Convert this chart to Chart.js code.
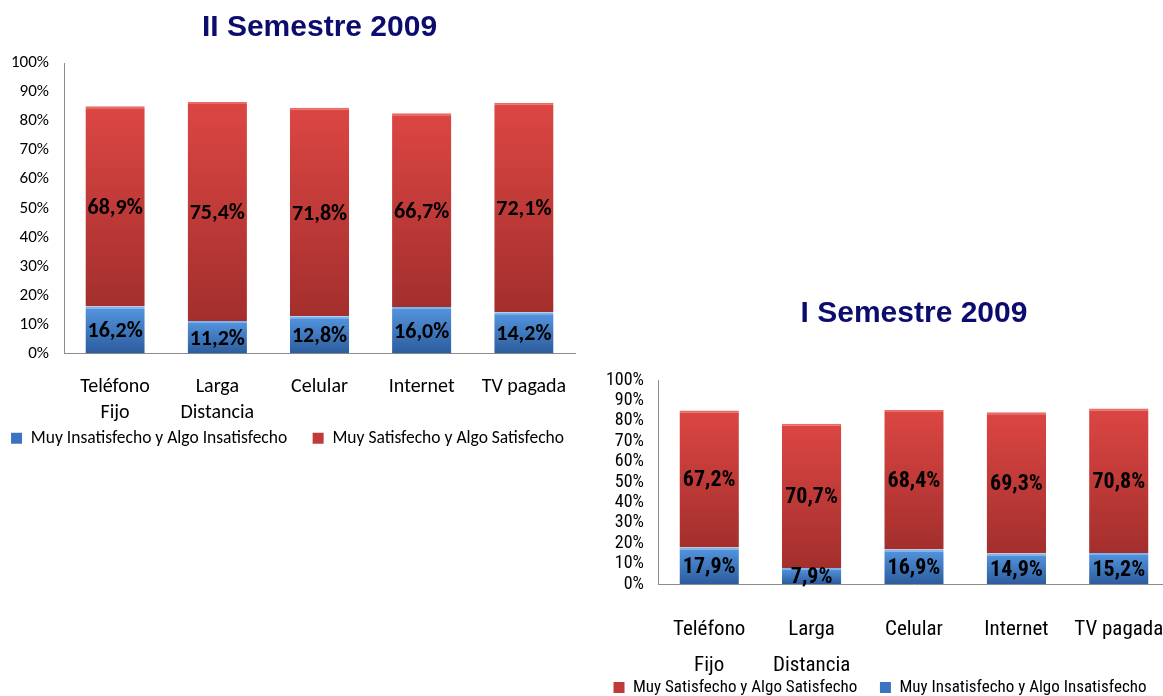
<!DOCTYPE html>
<html>
<head>
<meta charset="utf-8">
<script src="https://cdn.jsdelivr.net/npm/chart.js@4.4.1/dist/chart.umd.min.js"></script>
<style>
  html, body { margin: 0; padding: 0; background: #fff; overflow: hidden; }
  .box { position: absolute; }
  #left { left: 0; top: 0; }
  #right { left: 590px; top: 290px; }
</style>
</head>
<body>
<div class="box" id="left"><canvas id="canvas-1" width="610" height="457"></canvas></div>
<div class="box" id="right"><canvas id="canvas-2" width="620" height="416"></canvas></div>
<script>
const categories = [['Teléfono', 'Fijo'], ['Larga', 'Distancia'], 'Celular', 'Internet', 'TV pagada'];
// II Semestre 2009
const insatisfechoII = [16.2, 11.2, 12.8, 16.0, 14.2];
const satisfechoII = [68.9, 75.4, 71.8, 66.7, 72.1];
// I Semestre 2009
const insatisfechoI = [17.9, 7.9, 16.9, 14.9, 15.2];
const satisfechoI = [67.2, 70.7, 68.4, 69.3, 70.8];
const yMax = 100;
const yStep = 10;

const labelInsatisfecho = 'Muy Insatisfecho y Algo Insatisfecho';
const labelSatisfecho = 'Muy Satisfecho y Algo Satisfecho';

const blueSolid = '#3a74c0';
const redSolid = '#bf3a38';

// vertical gradient per bar segment, lighter at the top
function barFill(light, dark, mid) {
  return function (ctx) {
    const chart = ctx.chart;
    const y = chart.scales.y;
    if (ctx.type !== 'data' || !y || !chart.chartArea) return mid;
    let base = 0;
    for (let i = 0; i < ctx.datasetIndex; i++) base += chart.data.datasets[i].data[ctx.dataIndex];
    const top = y.getPixelForValue(base + ctx.raw);
    const bottom = y.getPixelForValue(base);
    if (!isFinite(top) || !isFinite(bottom) || top === bottom) return mid;
    const g = chart.ctx.createLinearGradient(0, top, 0, bottom);
    g.addColorStop(0, light);
    g.addColorStop(1, dark);
    return g;
  };
}

const blueFill = barFill('#5496e0', '#2c5c9d', blueSolid);
const redFill = barFill('#dc4643', '#a32f2d', redSolid);

const valueLabels = {
  id: 'valueLabels',
  afterDatasetsDraw(chart, args, opts) {
    const ctx = chart.ctx;
    ctx.save();
    ctx.font = opts.font;
    ctx.fillStyle = '#000';
    ctx.textAlign = 'center';
    ctx.textBaseline = 'middle';
    chart.data.datasets.forEach((ds, i) => {
      chart.getDatasetMeta(i).data.forEach((bar, j) => {
        const txt = ds.data[j].toFixed(1).replace('.', ',') + '%';
        ctx.fillText(txt, bar.x, (bar.y + bar.base) / 2 + 2);
      });
    });
    ctx.restore();
  }
};

function makeChart(id, s) {
  return new Chart(document.getElementById(id), {
    type: 'bar',
    data: {
      labels: categories,
      datasets: [{
        label: labelInsatisfecho,
        data: s.blue,
        backgroundColor: blueFill,
        borderColor: '#7db4f0',
        borderWidth: { top: 2, right: 0, bottom: 0, left: 0 },
        borderSkipped: 'start'
      }, {
        label: labelSatisfecho,
        data: s.red,
        backgroundColor: redFill,
        borderColor: '#ea6a66',
        borderWidth: { top: 2, right: 0, bottom: 0, left: 0 },
        borderSkipped: 'start'
      }]
    },
    options: {
      responsive: false,
      animation: false,
      barPercentage: 0.58,
      categoryPercentage: 1,
      layout: { padding: s.padding },
      plugins: {
        title: {
          display: true,
          fullSize: false,
          text: s.title,
          color: '#0c0c6e',
          font: { family: "'Liberation Sans', Arial, sans-serif", size: 30, weight: 'bold' },
          padding: s.titlePadding
        },
        legend: {
          position: 'bottom',
          reverse: s.reverseLegend,
          labels: {
            boxWidth: 11,
            boxHeight: 11,
            color: '#000',
            padding: s.legendPadding,
            font: { family: s.font, size: s.legendSize },
            generateLabels(chart) {
              const items = Chart.defaults.plugins.legend.labels.generateLabels(chart);
              items.forEach(it => {
                it.fillStyle = it.datasetIndex === 0 ? blueSolid : redSolid;
                it.strokeStyle = it.fillStyle;
                it.lineWidth = 0;
              });
              // extra room after the first entry, like the original spacing
              const first = s.reverseLegend ? items.length - 1 : 0;
              items[first].text += s.legendGap;
              return items;
            }
          }
        },
        tooltip: { enabled: false },
        valueLabels: { font: 'bold ' + s.valueSize + 'px ' + s.font }
      },
      scales: {
        x: {
          stacked: true,
          grid: { display: false, drawTicks: false },
          border: { color: '#8c8c8c' },
          ticks: {
            color: '#000',
            autoSkip: false,
            maxRotation: 0,
            padding: s.xPad,
            font: { family: s.font, size: s.xSize, lineHeight: s.xLine }
          },
          afterFit(scale) { scale.height = s.xHeight; }
        },
        y: {
          stacked: true,
          min: 0,
          max: yMax,
          grid: { display: false, drawTicks: false },
          border: { color: '#8c8c8c' },
          ticks: {
            color: '#000',
            autoSkip: false,
            stepSize: yStep,
            padding: s.yPad,
            font: { family: s.font, size: s.ySize },
            callback: v => v + '%'
          },
          afterFit(scale) { scale.width = s.yWidth; }
        }
      }
    },
    plugins: [valueLabels]
  });
}

const chartII = makeChart('canvas-1', {
  title: 'II Semestre 2009',
  blue: insatisfechoII,
  red: satisfechoII,
  font: "Carlito, Lato, sans-serif",
  padding: { left: 0, right: 35, top: 0, bottom: 0 },
  titlePadding: { top: 10, bottom: 17 },
  reverseLegend: false,
  legendPadding: 4,
  legendGap: '\u2003 ',
  legendSize: 17.5,
  valueSize: 22,
  xPad: 20, xSize: 20, xLine: 1.3, xHeight: 72,
  yPad: 15, ySize: 17, yWidth: 64
});

const chartI = makeChart('canvas-2', {
  title: 'I Semestre 2009',
  blue: insatisfechoI,
  red: satisfechoI,
  font: "'Roboto Condensed', Carlito, sans-serif",
  padding: { left: 0, right: 40, top: 0, bottom: 0 },
  titlePadding: { top: 6, bottom: 48 },
  reverseLegend: true,
  legendPadding: 0,
  legendGap: '\u2003  ',
  legendSize: 17,
  valueSize: 22,
  xPad: 28, xSize: 21, xLine: 1.714, xHeight: 95,
  yPad: 14, ySize: 18, yWidth: 68
});
</script>
</body>
</html>
